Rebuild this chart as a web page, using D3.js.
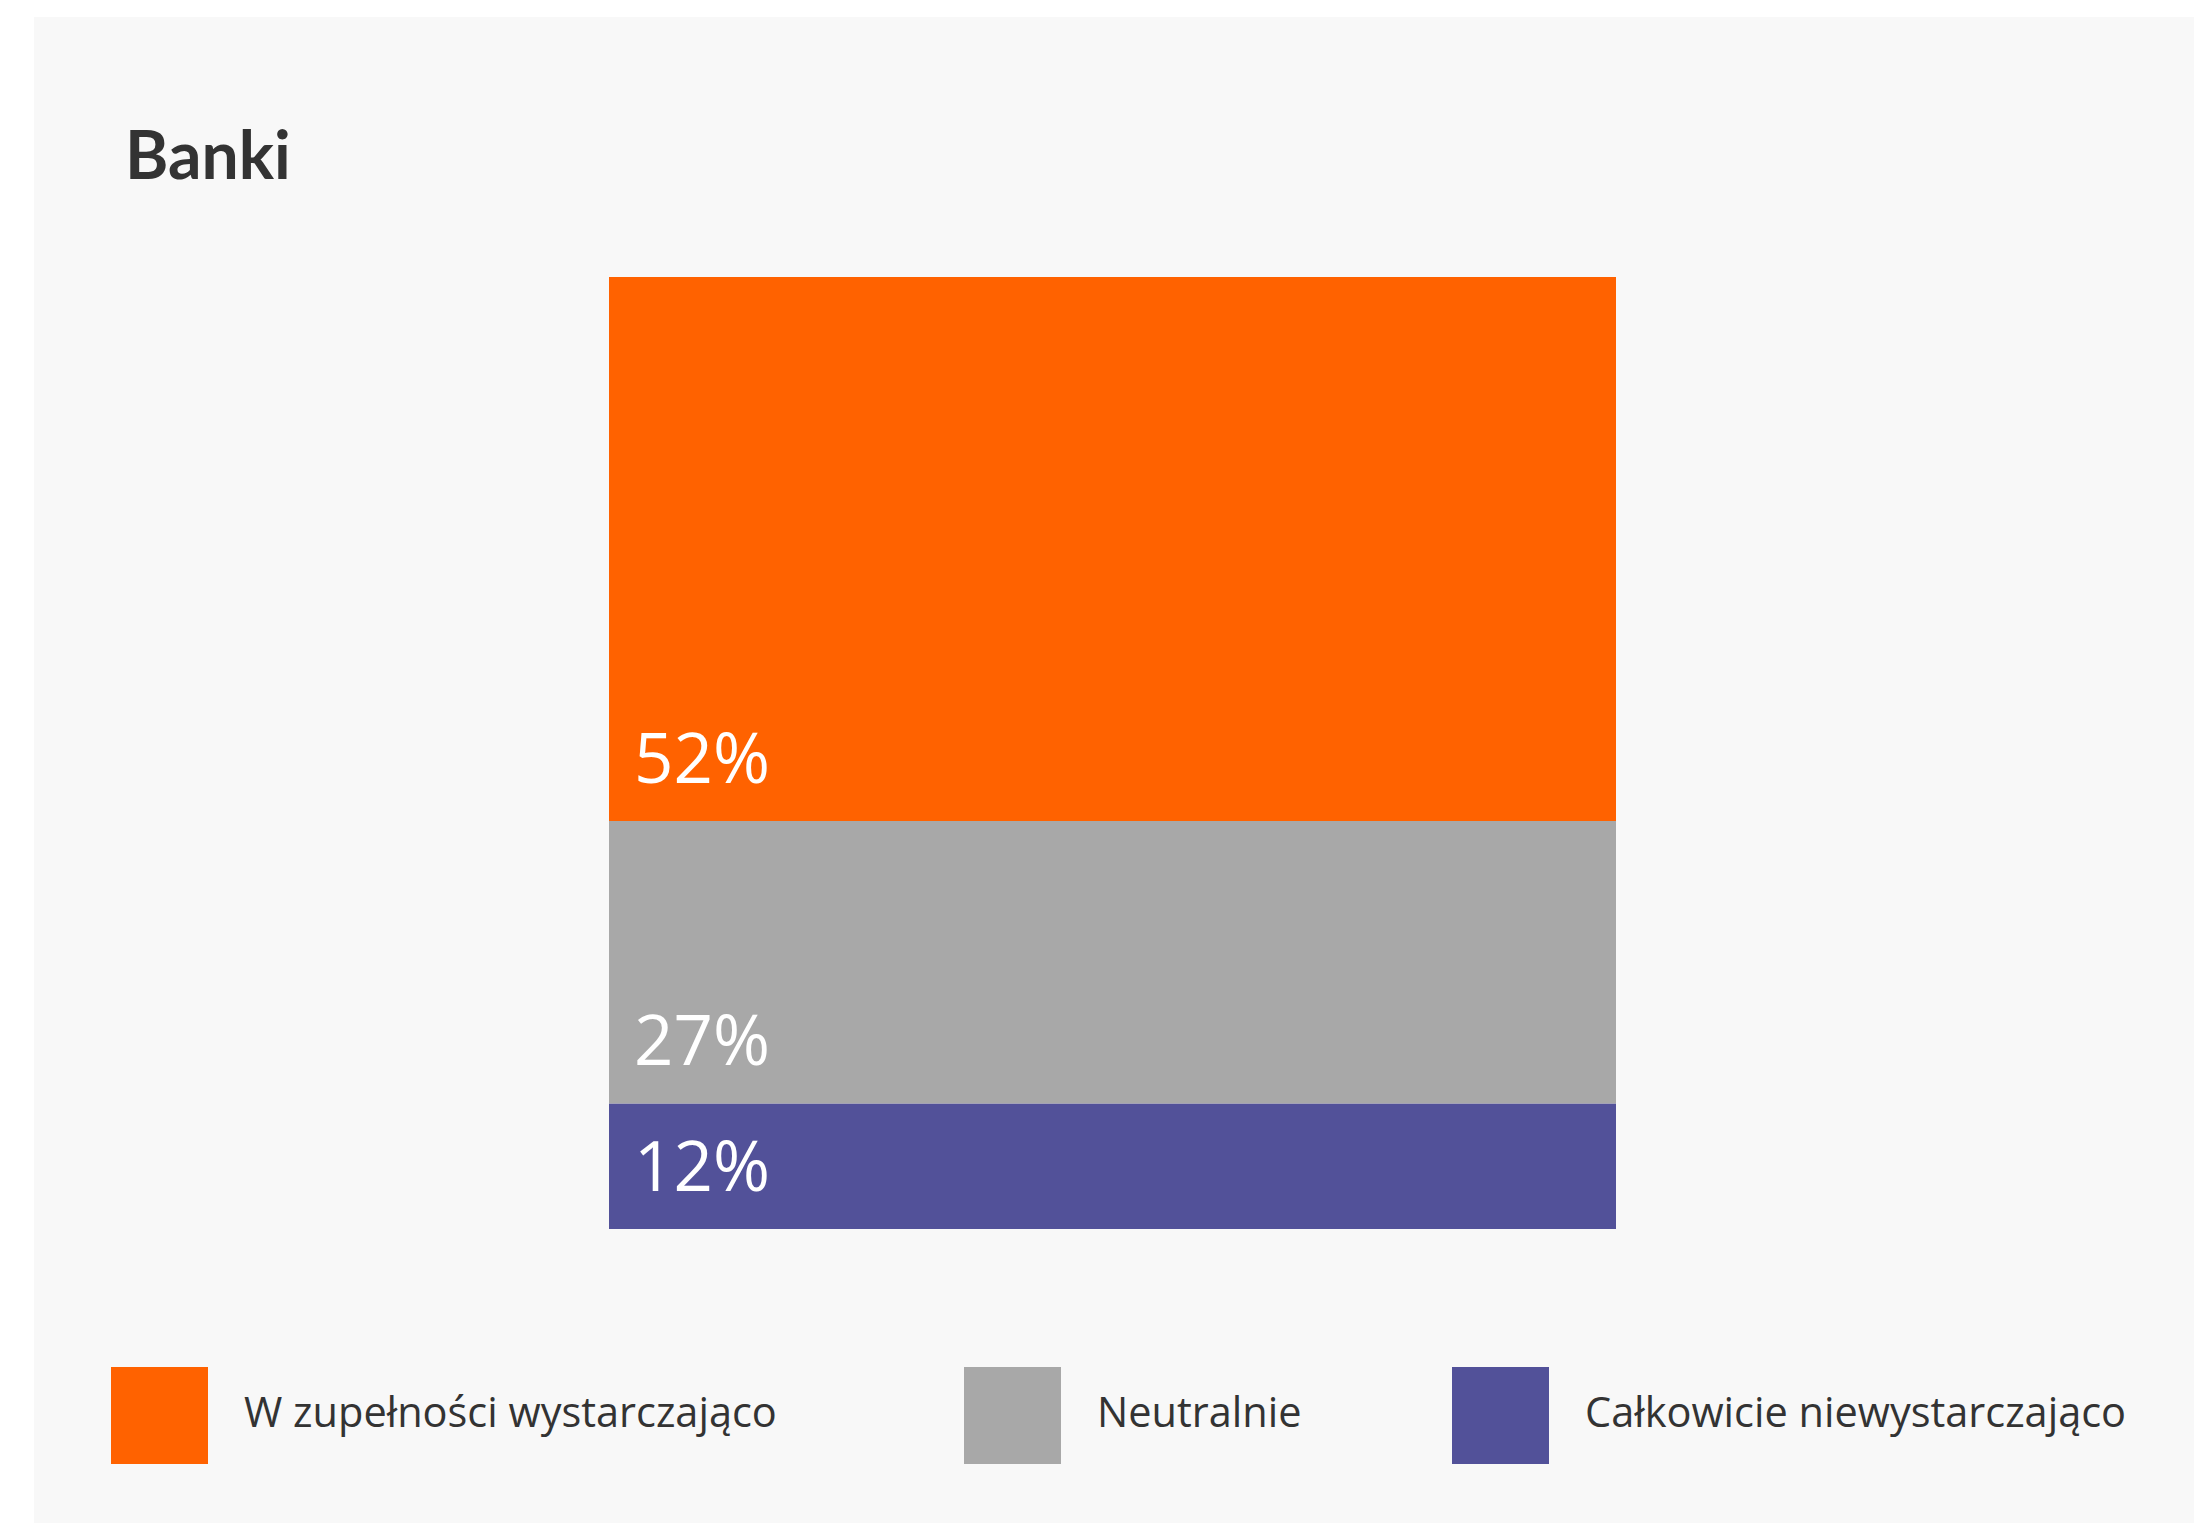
<!DOCTYPE html>
<html>
<head>
<meta charset="utf-8">
<script src="https://cdn.jsdelivr.net/npm/d3@7"></script>
<style>
  html, body { margin: 0; padding: 0; background: #ffffff; }
  svg { display: block; }
  text { font-family: "Open Sans", "Noto Sans", sans-serif; }
</style>
</head>
<body>
<svg id="chart" width="2194" height="1523"></svg>
<script>
const title = "Banki";
const categories = ["Banki"];
const seriesNames = ["Całkowicie niewystarczająco", "Neutralnie", "W zupełności wystarczająco"];
const seriesValues = [12, 27, 52];
const seriesColors = ["#525199", "#a8a8a8", "#ff6200"];
const legendOrder = ["W zupełności wystarczająco", "Neutralnie", "Całkowicie niewystarczająco"];

const W = 2194, H = 1523;
const svg = d3.select("#chart");

// panel
svg.append("rect").attr("x", 34).attr("y", 17).attr("width", W - 34).attr("height", H - 17).attr("fill", "#f8f8f8");

// title
svg.append("text").attr("x", 125).attr("y", 179)
  .style("font-family", "Lato, 'Open Sans', sans-serif")
  .attr("font-size", 66).attr("font-weight", 700).attr("fill", "#333333").text(title);

// data table
const row = { category: categories[0] };
seriesNames.forEach((n, i) => row[n] = seriesValues[i]);
const stacked = d3.stack().keys(seriesNames)([row]);
const total = d3.sum(seriesValues);

const x = d3.scaleBand().domain(categories).range([609, 1616]).padding(0);
const y = d3.scaleLinear().domain([0, total]).range([1229, 277]);
const color = d3.scaleOrdinal().domain(seriesNames).range(seriesColors);

const g = svg.append("g");
stacked.forEach(s => {
  const d = s[0];
  g.append("rect")
    .attr("x", x(d.data.category))
    .attr("width", x.bandwidth())
    .attr("y", y(d[1]))
    .attr("height", y(d[0]) - y(d[1]))
    .attr("fill", color(s.key));
  g.append("text")
    .attr("x", x(d.data.category) + 25)
    .attr("y", y(d[0]) - 38)
    .attr("font-size", 69)
    .attr("fill", "#ffffff")
    .text(d.data[s.key] + "%");
});

// legend
const lg = svg.append("g");
const legendX = [111, 964, 1452];
const sw = 97, ly = 1367;
legendOrder.forEach((name, i) => {
  const lx = legendX[i];
  lg.append("rect").attr("x", lx).attr("y", ly).attr("width", sw).attr("height", sw).attr("fill", color(name));
  lg.append("text").attr("x", lx + 133).attr("y", 1427)
    .attr("font-size", 41.5).attr("fill", "#333333").text(name);
});
</script>
</body>
</html>
